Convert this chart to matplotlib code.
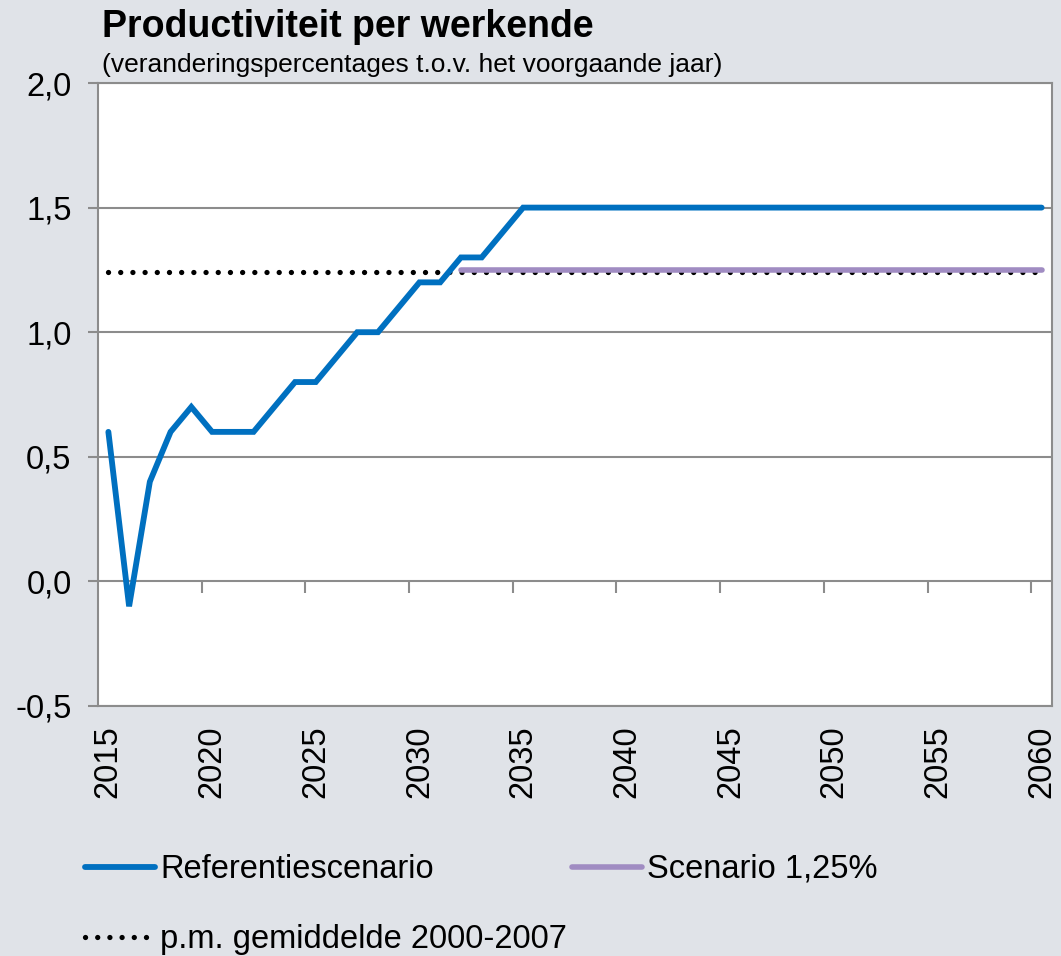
import numpy as np
import matplotlib
matplotlib.use("Agg")
import matplotlib.pyplot as plt

plt.rcParams['font.family'] = ['Liberation Sans', 'DejaVu Sans']

# data
years = list(range(2015, 2061))
referentie = [0.6, -0.1, 0.4, 0.6, 0.7, 0.6, 0.6, 0.6, 0.7, 0.8,
              0.8, 0.9, 1.0, 1.0, 1.1, 1.2, 1.2, 1.3, 1.3, 1.4] + [1.5] * 26
scenario_years = list(range(2032, 2061))
scenario_125 = [1.25] * len(scenario_years)
gemiddelde = 1.24
ytick_vals = [-0.5, 0.0, 0.5, 1.0, 1.5, 2.0]
xtick_years = list(range(2015, 2061, 5))

bg = '#E0E3E8'
grid_col = '#8C8C8C'
blue = '#0070C0'
purple = '#A08CC2'

fig = plt.figure(figsize=(10.61, 9.56), dpi=100, facecolor=bg)
ax = fig.add_axes([98/1061, 1 - 706/956, (1052-98)/1061, (706-83)/956])
ax.set_facecolor('white')

ax.plot(years, [gemiddelde] * len(years), color='black', lw=3.8,
        linestyle=(0, (0.01, 2.3)), dash_capstyle='round', label='p.m. gemiddelde 2000-2007', zorder=3)
ax.plot(scenario_years, scenario_125, color=purple, lw=4.0, solid_capstyle='round',
        label='Scenario 1,25%', zorder=4)
ax.plot(years, referentie, color=blue, lw=4.2, solid_capstyle='round',
        solid_joinstyle='miter', label='Referentiescenario', zorder=5)

ax.set_xlim(2014.5, 2060.5)
ax.set_ylim(-0.5, 2.0)
ax.set_yticks(ytick_vals)
ax.set_yticklabels([('%.1f' % v).replace('.', ',') for v in ytick_vals], fontsize=23.5)
ax.set_xticks(xtick_years)
ax.set_xticklabels([str(y) for y in xtick_years], rotation=90, fontsize=23.5)
ax.tick_params(axis='x', length=0, pad=14)
ax.tick_params(axis='y', length=7, width=1.5, color=grid_col, pad=12)
ax.yaxis.grid(True, color=grid_col, lw=1.5)
ax.set_axisbelow(True)
for s in ax.spines.values():
    s.set_color(grid_col)
    s.set_linewidth(1.5)

# category boundary ticks on the zero line
bounds = [y - 0.5 for y in xtick_years[1:]]
ax.vlines(bounds, -0.045, 0, color=grid_col, lw=1.5, zorder=2)

fig.text(102/1061, 1 - 37/956, 'Productiviteit per werkende', fontsize=27,
         fontweight='bold', va='baseline', ha='left')
fig.text(102/1061, 1 - 72/956, '(veranderingspercentages t.o.v. het voorgaande jaar)',
         fontsize=19, va='baseline', ha='left')

h, l = ax.get_legend_handles_labels()
order = [2, 0, 1]
leg = fig.legend([h[i] for i in order], [l[i] for i in order], ncol=2, frameon=False,
                 loc='upper left', bbox_to_anchor=(85/1061, 1 - 854/956), fontsize=23.5,
                 borderpad=0, borderaxespad=0, handlelength=2.15, handletextpad=0.15,
                 labelspacing=1.2, columnspacing=0.15)

fig.savefig('out.png', dpi=100, facecolor=bg)
